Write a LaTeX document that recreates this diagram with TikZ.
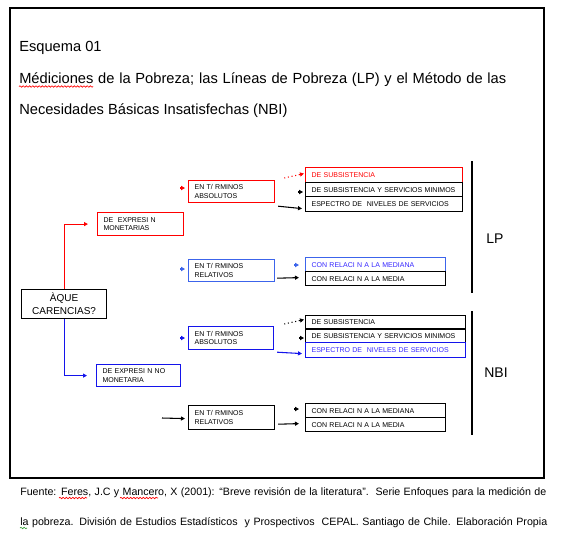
\documentclass[tikz,border=0pt]{standalone}
\usepackage{fontspec}
\setmainfont{Liberation Sans}
\usetikzlibrary{arrows.meta,decorations.pathmorphing}
\newdimen\pxu \pxu=0.75pt
\definecolor{myred}{RGB}{255,0,0}
\definecolor{dblue}{RGB}{20,20,235}
\definecolor{lblue}{RGB}{60,100,235}
\definecolor{tblue}{RGB}{55,40,255}
\definecolor{sqgreen}{RGB}{60,160,60}
\newcommand\boxnode[7]{%
  \pgfmathsetlengthmacro\bxw{(#4-#2)*0.75pt}%
  \pgfmathsetlengthmacro\bxh{(#5-#3)*0.75pt}%
  \pgfmathsetlengthmacro\bxt{(#4-#2-12)*0.75pt}%
  \node[box,#6,minimum width=\bxw,minimum height=\bxh,text width=\bxt,anchor=north west] (#1) at (#2,#3) {#7};}
\begin{document}
\begin{tikzpicture}[x=0.75pt,y=-0.75pt,
  box/.style={draw,line width=0.9pt,inner xsep=4.5pt,inner ysep=0pt,align=left,
    font=\fontsize{5.25pt}{6.3pt}\selectfont},
  conn/.style={line width=0.8pt,-{Triangle[length=3pt,width=3pt]}},
  stub/.style={line width=0.8pt,-{Triangle[length=3pt,width=3.2pt]}},
  lbl/.style={font=\fontsize{10.5pt}{12pt}\selectfont},
  ttl/.style={anchor=base west,inner sep=0pt,font=\fontsize{11pt}{13pt}\selectfont},
  foot/.style={anchor=base west,inner sep=0pt,font=\fontsize{8pt}{9pt}\selectfont},
  squig/.style={line width=0.5pt,decorate,decoration={snake,amplitude=0.55pt,segment length=2.4pt}},
]
\useasboundingbox (0,0) rectangle (566,546);
\fill[white] (0,0) rectangle (566,546);
\draw[line width=0.9pt] (10,8) rectangle (544,478);

% titles
\node[ttl] (t1) at (19,51) {Esquema 01};
\node[ttl] (t2) at (19,83) {\makebox[487\pxu][s]{Médiciones de la Pobreza; las Líneas de Pobreza (LP) y el Método de las}};
\node[ttl] (t3) at (19,114) {Necesidades\ Básicas Insatisfechas (NBI)};
\draw[squig,red] (19,86.5) -- (93,86.5);

% boxes
\boxnode{q}{21}{289}{106}{318}{align=center,font=\fontsize{7.5pt}{9.75pt}\selectfont}{ÀQUE\\CARENCIAS?}
\boxnode{mon}{97}{212}{183}{235}{myred,text=black}{DE\ \ EXPRESI N\\MONETARIAS}
\boxnode{nomon}{96}{364}{180}{386}{dblue,text=black}{DE EXPRESI N NO\\MONETARIA}
\boxnode{abs1}{188}{180}{274}{202}{myred,text=black}{EN T/ RMINOS\\ABSOLUTOS}
\boxnode{rel1}{188}{259}{274}{281}{lblue,text=black}{EN T/ RMINOS\\RELATIVOS}
\boxnode{abs2}{188}{326}{273}{349}{dblue,text=black}{EN T/ RMINOS\\ABSOLUTOS}
\boxnode{rel2}{188}{405}{274}{429}{}{EN T/ RMINOS\\RELATIVOS}

\boxnode{s1}{305}{167}{462}{182}{myred}{DE SUBSISTENCIA}
\boxnode{s2}{305}{182}{462}{196}{}{\mbox{DE SUBSISTENCIA Y SERVICIOS MINIMOS}}
\boxnode{s3}{305}{196}{462}{211}{}{ESPECTRO DE\ \ NIVELES DE SERVICIOS}
\boxnode{m1}{305}{257}{445}{271}{lblue,text=tblue}{CON RELACI N A LA MEDIANA}
\boxnode{m2}{305}{271}{445}{285}{}{CON RELACI N A LA MEDIA}
\boxnode{n1}{305}{315}{465}{328}{}{DE SUBSISTENCIA}
\boxnode{n2}{305}{329}{465}{342}{}{\mbox{DE SUBSISTENCIA Y SERVICIOS MINIMOS}}
\boxnode{n3}{305}{342}{465}{357}{dblue,text=tblue}{ESPECTRO DE\ \ NIVELES DE SERVICIOS}
\boxnode{r1}{305}{403}{445}{417}{}{CON RELACI N A LA MEDIANA}
\boxnode{r2}{305}{417}{445}{431}{}{CON RELACI N A LA MEDIA}

% main branches
\draw[conn,myred,shorten >=6.75pt] (q.north) |- (mon.west);
\draw[conn,dblue,shorten >=6.75pt] (q.south) |- (nomon.west);

% isolated arrow stubs
\coordinate (a1) at (180,188);
\coordinate (a2) at (180,269);
\coordinate (a3) at (180,338);
\coordinate (b1) at (298,192);
\coordinate (b2) at (294,265);
\coordinate (b3) at (299,338);
\coordinate (b4) at (294,409);
\draw[stub,myred] (a1) -- ++(5,0);
\draw[stub,lblue] (a2) -- ++(5,0);
\draw[stub,dblue] (a3) -- ++(5,0);
\draw[stub] (b1) -- ++(5,0);
\draw[stub,lblue] (b2) -- ++(5,0);
\draw[stub] (b3) -- ++(5,0);
\draw[stub] (b4) -- ++(5,0);

% connectors LP
\draw[conn,myred,dotted] ([shift={(9,-2)}]abs1.north east) -- ([shift={(-1,-1.5)}]s1.west);
\draw[conn] ([shift={(3,3)}]abs1.south east) -- ([shift={(-3,4.5)}]s3.west);
\draw[conn] ([shift={(2,-4)}]rel1.south east) -- ([shift={(-6,-1)}]m2.west);

% connectors NBI
\draw[conn,dotted] ([shift={(10,-2)}]abs2.north east) -- ([shift={(-1,-2.5)}]n1.west);
\draw[conn,dblue] ([shift={(3,2)}]abs2.south east) -- ([shift={(-3,3.5)}]n3.west);
\coordinate (c1) at (162,418);
\draw[conn] (c1) -- ([shift={(-3,1)}]rel2.west);
\draw[conn] ([shift={(3,-6)}]rel2.south east) -- ([shift={(-6,-1)}]r2.west);

% brackets and labels
\draw[line width=0.9pt] (472,161) -- (472,293);
\draw[line width=0.9pt] (472,311) -- (472,435);
\node[lbl] (lp) at (495,239) {LP};
\node[lbl] (nbi) at (496,373) {NBI};

% footer
\node[foot] (f1) at (20,495) {\makebox[526\pxu][s]{Fuente: Feres, J.C y Mancero, X (2001): “Breve revisión de la literatura”.\ \ Serie Enfoques para la medición de}};
\node[foot] (f2) at (20,525) {\makebox[527\pxu][s]{la pobreza. División de Estudios Estadísticos\ \ y Prospectivos\ \ CEPAL. Santiago de Chile. Elaboración Propia}};
\draw[squig,myred] (59,498) -- (87,498);
\draw[squig,myred] (120,498) -- (158,498);
\draw[squig,sqgreen] (20,528) -- (27,528);
\end{tikzpicture}
\end{document}
